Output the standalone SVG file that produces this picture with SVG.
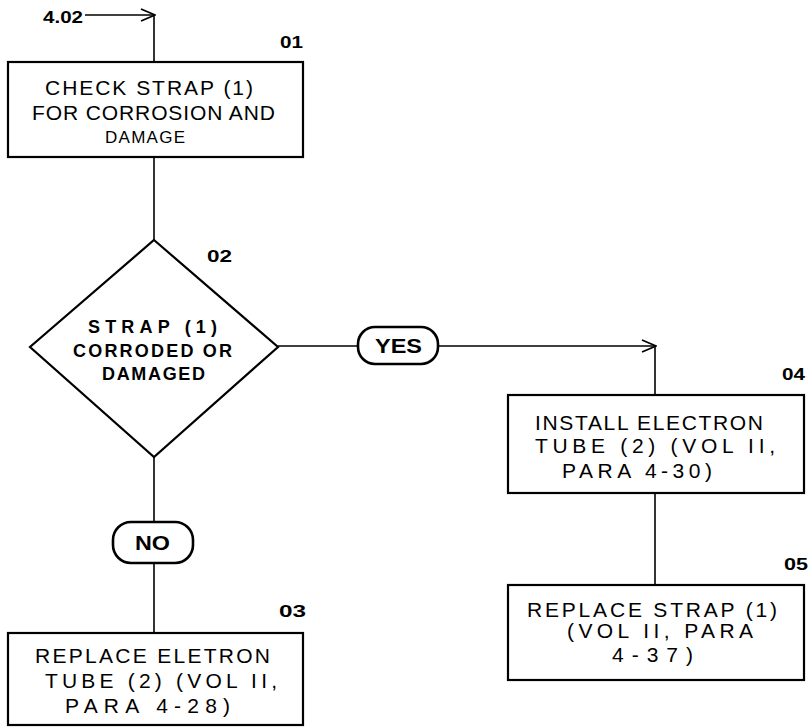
<svg xmlns="http://www.w3.org/2000/svg" width="811" height="727" viewBox="0 0 811 727">
<style>
.box{fill:#fff;stroke:#000;stroke-width:2.2}
.pill{fill:#fff;stroke:#000;stroke-width:2.6}
.ln{fill:none;stroke:#000;stroke-width:1.6}
.t{font-family:"Liberation Sans",Arial,sans-serif;font-size:21px;fill:#000}
.d{font-family:"Liberation Sans",Arial,sans-serif;font-size:18px;font-weight:bold;fill:#000}
.lab{font-family:"Liberation Sans",Arial,sans-serif;font-size:16px;font-weight:bold;fill:#000}
.pt{font-family:"Liberation Sans",Arial,sans-serif;font-size:21px;font-weight:bold;fill:#000}
</style>
<defs>
<marker id="chev" viewBox="0 0 16 14" refX="15" refY="7" markerWidth="16" markerHeight="14" markerUnits="userSpaceOnUse" orient="auto">
<path d="M1,1 L15,7 L1,13" fill="none" stroke="#000" stroke-width="1.8"/>
</marker>
</defs>
<rect width="811" height="727" fill="#fff"/>
<g id="connectors">
<path class="ln" d="M85,15 H155" marker-end="url(#chev)"/>
<path class="ln" d="M154,15 V62"/>
<path class="ln" d="M154,157 V240"/>
<path class="ln" d="M278,346 H358"/>
<path class="ln" d="M438,346 H656" marker-end="url(#chev)"/>
<path class="ln" d="M655,346 V395"/>
<path class="ln" d="M655,493 V585"/>
<path class="ln" d="M154,457 V522"/>
<path class="ln" d="M154,563 V633"/>
</g>
<g id="entry">
<text class="lab" x="43" y="23" style="font-size:17px" textLength="40" lengthAdjust="spacingAndGlyphs">4.02</text>
</g>
<g id="n01">
<rect class="box" x="8" y="62" width="295" height="95"/>
<text class="lab" x="280" y="48" textLength="23" lengthAdjust="spacingAndGlyphs">01</text>
<text class="t" x="45" y="95" textLength="208" lengthAdjust="spacing">CHECK STRAP (1)</text>
<text class="t" x="32" y="120" textLength="243" lengthAdjust="spacing">FOR CORROSION AND</text>
<text class="t" x="105" y="143" style="font-size:17px" textLength="80" lengthAdjust="spacing">DAMAGE</text>
</g>
<g id="n02">
<polygon class="box" points="154,240 278,347 154,457 30,347"/>
<text class="lab" x="207" y="262" textLength="25" lengthAdjust="spacingAndGlyphs">02</text>
<text class="d" x="88" y="333" textLength="129" lengthAdjust="spacing">STRAP (1)</text>
<text class="d" x="73" y="357" textLength="159" lengthAdjust="spacing">CORRODED OR</text>
<text class="d" x="102" y="380" textLength="103" lengthAdjust="spacing">DAMAGED</text>
</g>
<g id="yes">
<rect class="pill" x="358" y="327" width="80" height="37" rx="17"/>
<text class="pt" x="375" y="353" textLength="47" lengthAdjust="spacingAndGlyphs">YES</text>
</g>
<g id="no">
<rect class="pill" x="113" y="522" width="80" height="41" rx="18"/>
<text class="pt" x="135" y="550" textLength="35" lengthAdjust="spacingAndGlyphs">NO</text>
</g>
<g id="n03">
<rect class="box" x="8" y="633" width="295" height="92"/>
<text class="lab" x="279" y="617" textLength="27" lengthAdjust="spacingAndGlyphs">03</text>
<text class="t" x="35" y="663" textLength="235" lengthAdjust="spacing">REPLACE ELETRON</text>
<text class="t" x="45" y="688" textLength="232" lengthAdjust="spacing">TUBE (2) (VOL II,</text>
<text class="t" x="65" y="713" textLength="165" lengthAdjust="spacing">PARA 4-28)</text>
</g>
<g id="n04">
<rect class="box" x="508" y="395" width="296" height="98"/>
<text class="lab" x="782" y="380" textLength="23" lengthAdjust="spacingAndGlyphs">04</text>
<text class="t" x="535" y="430" textLength="228" lengthAdjust="spacing">INSTALL ELECTRON</text>
<text class="t" x="535" y="453" textLength="240" lengthAdjust="spacing">TUBE (2) (VOL II,</text>
<text class="t" x="562" y="478" textLength="150" lengthAdjust="spacing">PARA 4-30)</text>
</g>
<g id="n05">
<rect class="box" x="508" y="585" width="296" height="95"/>
<text class="lab" x="784" y="570" textLength="24" lengthAdjust="spacingAndGlyphs">05</text>
<text class="t" x="527" y="617" textLength="250" lengthAdjust="spacing">REPLACE STRAP (1)</text>
<text class="t" x="567" y="638" textLength="186" lengthAdjust="spacing">(VOL II, PARA</text>
<text class="t" x="612" y="662" textLength="81" lengthAdjust="spacing">4-37)</text>
</g>
</svg>
